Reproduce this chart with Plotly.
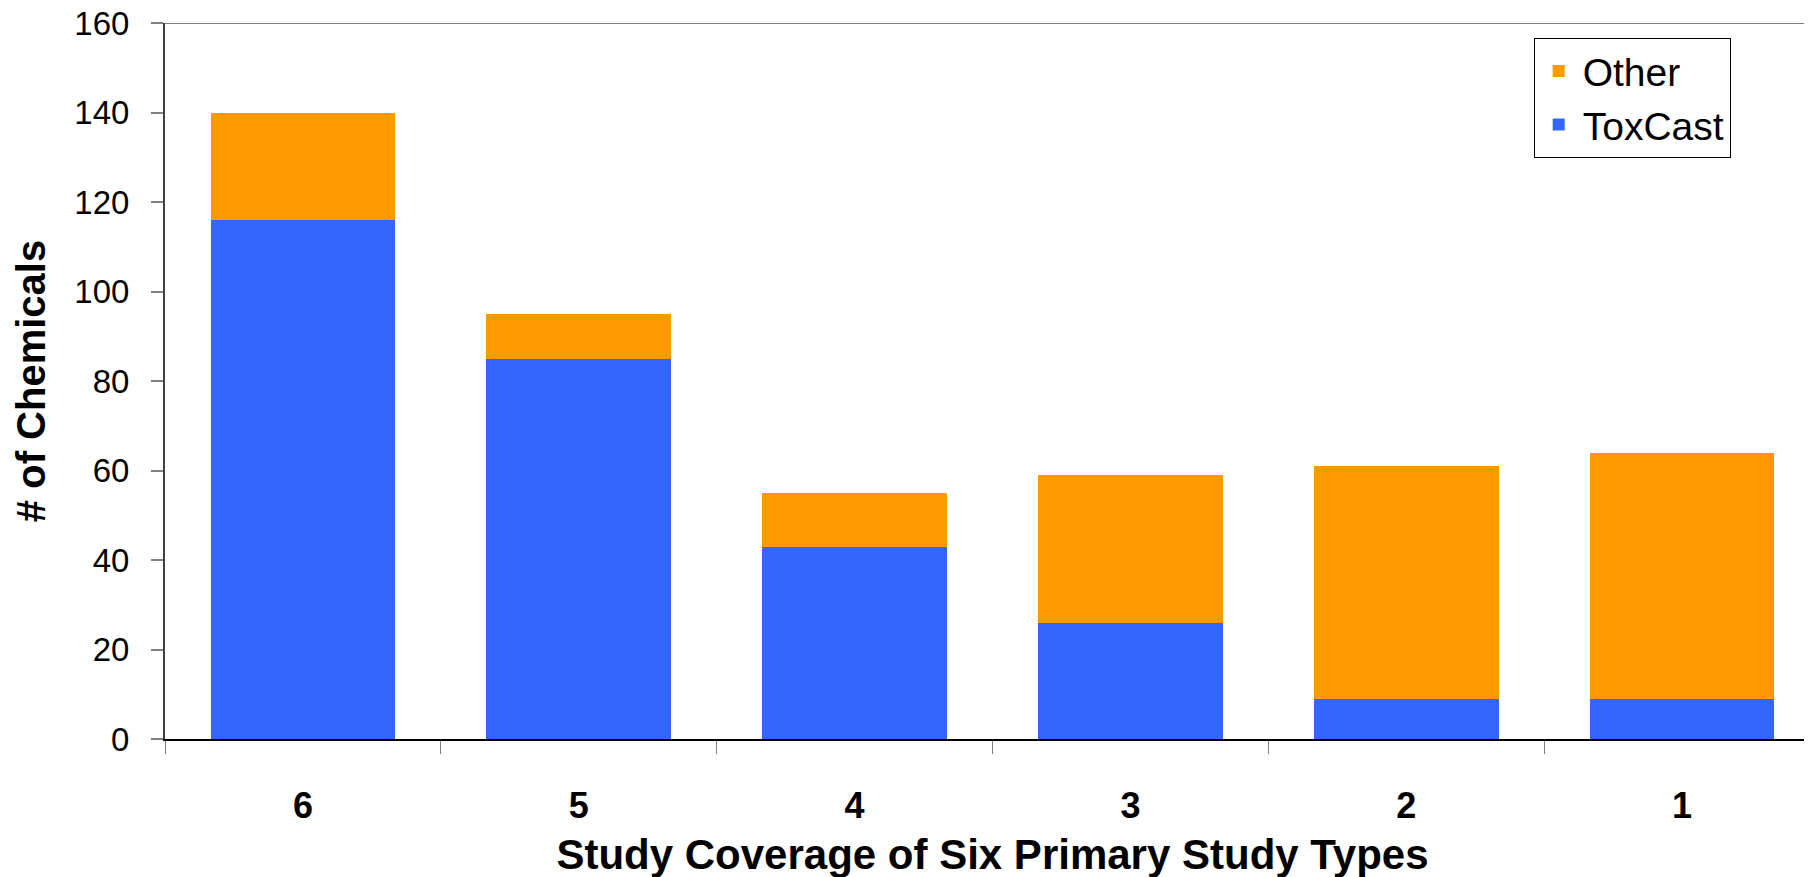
import plotly.graph_objects as go

categories = ["6", "5", "4", "3", "2", "1"]
toxcast = [116, 85, 43, 26, 9, 9]
other = [24, 10, 12, 33, 52, 55]
y_ticks = [0, 20, 40, 60, 80, 100, 120, 140, 160]

FONT = "Liberation Sans, Arial, sans-serif"
BLUE = "#3366FF"
ORANGE = "#FF9900"

fig = go.Figure()
fig.add_trace(go.Bar(x=categories, y=toxcast, name="ToxCast",
                     marker=dict(color=BLUE, line=dict(width=0)), width=0.67))
fig.add_trace(go.Bar(x=categories, y=other, name="Other",
                     marker=dict(color=ORANGE, line=dict(width=0)), width=0.67))

fig.update_layout(
    width=1812, height=877,
    barmode="stack",
    paper_bgcolor="white", plot_bgcolor="white",
    margin=dict(l=157, r=0, t=15, b=146, autoexpand=False),
    font=dict(family=FONT, color="black"),
    legend=dict(
        x=0.827, y=0.979, xanchor="left", yanchor="top",
        bordercolor="black", borderwidth=1, bgcolor="white",
        font=dict(size=39, family=FONT), traceorder="reversed",
        itemwidth=38,
    ),
    xaxis=dict(
        type="category", range=[-0.5, 5.5],
        showline=True, linecolor="black", linewidth=2,
        ticks="outside", tickson="boundaries", ticklen=13, tickcolor="#808080", tickwidth=1,
        tickfont=dict(size=36, family=FONT, weight="bold"),
        ticklabelstandoff=34,
        showgrid=False, zeroline=False, automargin=True,
        title=dict(text="<b>Study Coverage of Six Primary Study Types</b>",
                   font=dict(size=42, family=FONT), standoff=14),
    ),
    yaxis=dict(
        range=[0, 160], tickvals=y_ticks,
        showline=True, linecolor="#404040", linewidth=2,
        ticks="outside", ticklen=12, tickcolor="#808080", tickwidth=2,
        tickfont=dict(size=33, family=FONT),
        ticklabelstandoff=15, ticklabeloverflow="allow",
        showgrid=False, zeroline=False, automargin=True,
        title=dict(text="<b># of Chemicals</b>", font=dict(size=40, family=FONT), standoff=16),
    ),
    shapes=[dict(type="line", xref="paper", yref="y", x0=0, x1=1, y0=160, y1=160,
                 line=dict(color="#808080", width=2))],
)

fig.write_html("out.html")
